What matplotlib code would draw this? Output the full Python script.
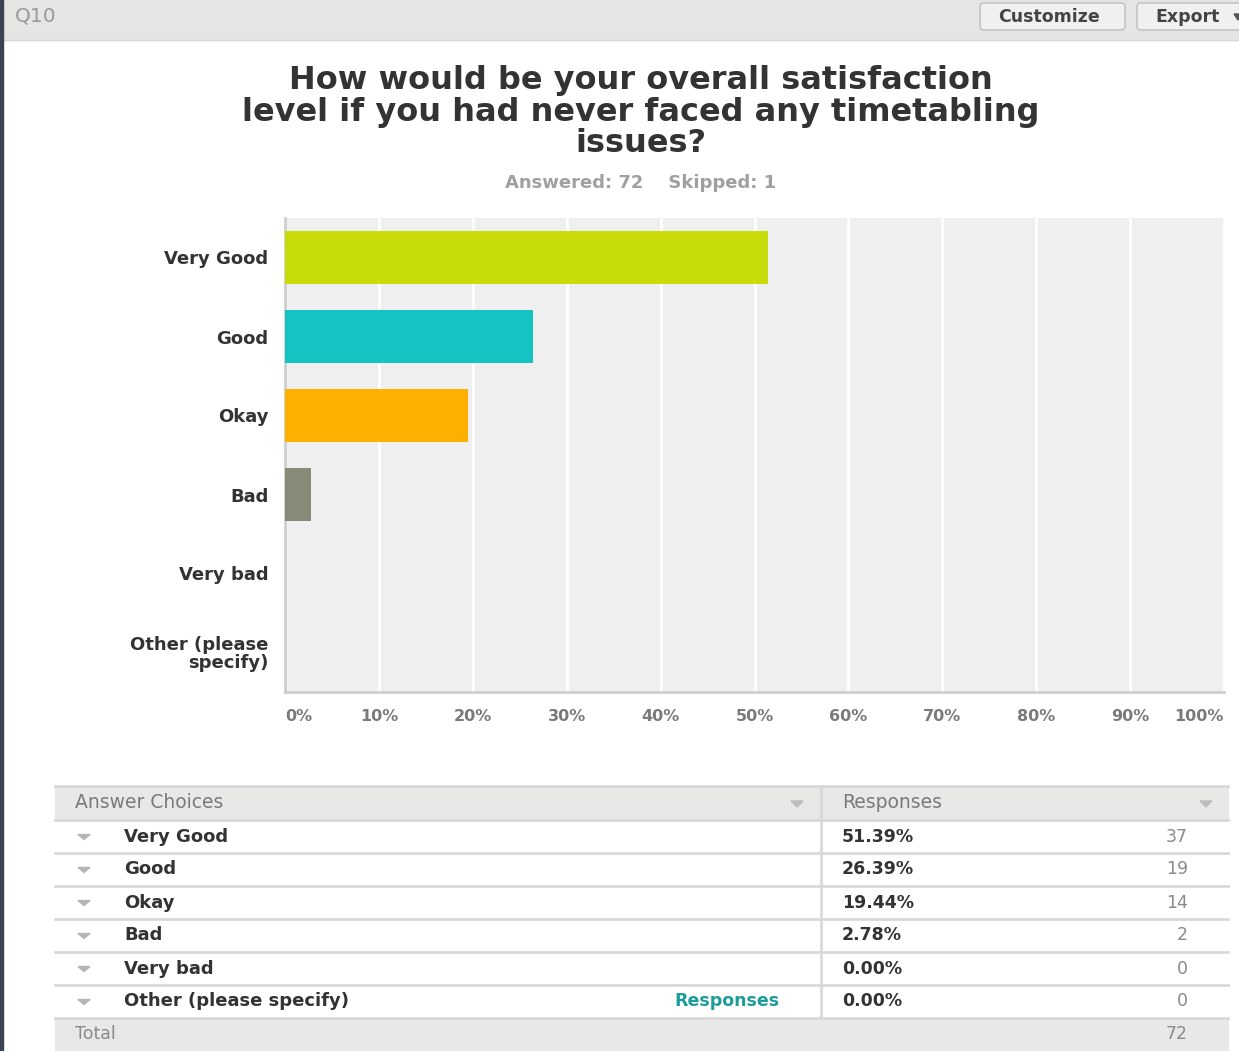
import numpy as np
import matplotlib
matplotlib.use('Agg')
import matplotlib.pyplot as plt
from matplotlib.patches import Rectangle, FancyBboxPatch, Polygon

# survey data
categories = ['Very Good', 'Good', 'Okay', 'Bad', 'Very bad', 'Other (please\nspecify)']
table_labels = ['Very Good', 'Good', 'Okay', 'Bad', 'Very bad', 'Other (please specify)']
percents = [51.39, 26.39, 19.44, 2.78, 0.00, 0.00]
counts = [37, 19, 14, 2, 0, 0]
bar_colors = ['#c8dc0b', '#15c3c2', '#feb000', '#888a78', '#888a78', '#888a78']
title_lines = ['How would be your overall satisfaction',
               'level if you had never faced any timetabling',
               'issues?']
answered, skipped, total = 72, 1, 72
xticks = np.arange(0, 101, 10)

W, H = 1239, 1051
fig = plt.figure(figsize=(W / 100, H / 100), dpi=100)

# full-figure overlay in pixel coordinates for the page furniture
bg = fig.add_axes([0, 0, 1, 1])
bg.set_xlim(0, W)
bg.set_ylim(H, 0)
bg.axis('off')

# header bar
bg.add_patch(Rectangle((0, 0), W, 40, color='#e5e5e3', zorder=1))
bg.plot([0, W], [40, 40], color='#d6d6d6', lw=1, zorder=2)
bg.text(15, 16, 'Q10', fontsize=14.5, color='#9a9a9a', va='center', ha='left')
for x0, w, lab in [(980, 145, 'Customize'), (1137, 120, 'Export')]:
    bg.add_patch(FancyBboxPatch((x0, 3), w, 27, boxstyle='round,pad=0,rounding_size=4',
                                fc='#f0f0ee', ec='#bdbdbd', lw=1, zorder=3))
    bg.text(x0 + 18, 17, lab, fontsize=12.5, fontweight='bold', color='#444444',
            va='center', ha='left', zorder=4)
bg.add_patch(Polygon([[1234, 14], [1242, 14], [1238, 20]], color='#555555', zorder=4))

# dark left edge
bg.add_patch(Rectangle((0, 0), 3, H, color='#3b4452', zorder=5))

# title and subtitle
for i, line in enumerate(title_lines):
    bg.text(641, 81 + 31 * i, line, fontsize=23, fontweight='bold', color='#333333',
            ha='center', va='center')
bg.text(641, 183, 'Answered: %d    Skipped: %d' % (answered, skipped), fontsize=13,
        fontweight='bold', color='#a0a0a0', ha='center', va='center')

# bar chart
ax = fig.add_axes([285 / W, (H - 692) / H, (1224 - 285) / W, 474 / H])
ax.set_facecolor('#efefef')
y = np.arange(len(categories))
ax.barh(y, percents, height=0.66, color=bar_colors, zorder=3)
ax.set_xlim(0, 100)
ax.set_ylim(len(categories) - 0.5, -0.5)
for v in xticks[1:]:
    ax.axvline(v, color='white', lw=2, zorder=1)
for s in ['top', 'right']:
    ax.spines[s].set_visible(False)
for s in ['left', 'bottom']:
    ax.spines[s].set_color('#cfcfcf')
    ax.spines[s].set_linewidth(2)
ax.set_yticks(y)
ax.set_yticklabels(categories, fontsize=13, fontweight='bold', color='#333333',
                   linespacing=0.95)
ax.tick_params(axis='y', length=0, pad=12)
ax.set_xticks(xticks)
ax.set_xticklabels(['%d%%' % v for v in xticks], fontsize=11.5, fontweight='bold',
                   color='#7a7a7a')
ax.tick_params(axis='x', length=0, pad=12)
labs = ax.get_xticklabels()
labs[0].set_ha('left')
labs[-1].set_ha('right')

# results table
tx0, tx1, tdiv = 55, 1228, 821
top, rh = 786, 33
bg.add_patch(Rectangle((tx0, top), tx1 - tx0, 34, color='#e8e8e7', zorder=1))
bg.text(75, top + 17, 'Answer Choices', fontsize=13.5, color='#7a7a7a', va='center')
bg.text(842, top + 17, 'Responses', fontsize=13.5, color='#7a7a7a', va='center')
for xa in [797, 1206]:
    bg.add_patch(Polygon([[xa - 6, top + 15], [xa + 6, top + 15], [xa, top + 21]],
                         color='#bcbcbc', zorder=2))
row0 = top + 34
for i, (lab, p, c) in enumerate(zip(table_labels, percents, counts)):
    yc = row0 + rh * i + rh / 2
    bg.add_patch(Polygon([[78, yc - 2], [90, yc - 2], [84, yc + 3]], color='#b5b5b5', zorder=2))
    bg.text(124, yc, lab, fontsize=13, fontweight='bold', color='#333333', va='center')
    bg.text(842, yc, '%.2f%%' % p, fontsize=12.5, fontweight='bold', color='#333333',
            va='center')
    bg.text(1188, yc, str(c), fontsize=12.5, color='#8a8a8a', va='center', ha='right')
    if lab.startswith('Other'):
        bg.text(780, yc, 'Responses', fontsize=12.5, fontweight='bold', color='#1d9d9a',
                va='center', ha='right')
for i in range(len(table_labels) + 1):
    yl = row0 + rh * i
    bg.plot([tx0, tx1], [yl, yl], color='#d9d9d9', lw=2, zorder=3)
bg.plot([tx0, tx1], [top, top], color='#d9d9d9', lw=2, zorder=3)
ytot = row0 + rh * len(table_labels)
bg.add_patch(Rectangle((tx0, ytot), tx1 - tx0, H - ytot, color='#e8e8e7', zorder=1))
bg.text(75, ytot + 16, 'Total', fontsize=12.5, color='#8a8a8a', va='center')
bg.text(1188, ytot + 16, str(total), fontsize=12.5, color='#8a8a8a', va='center', ha='right')
bg.plot([tdiv, tdiv], [top, ytot], color='#d9d9d9', lw=2, zorder=3)

fig.savefig('out.png', dpi=100)
